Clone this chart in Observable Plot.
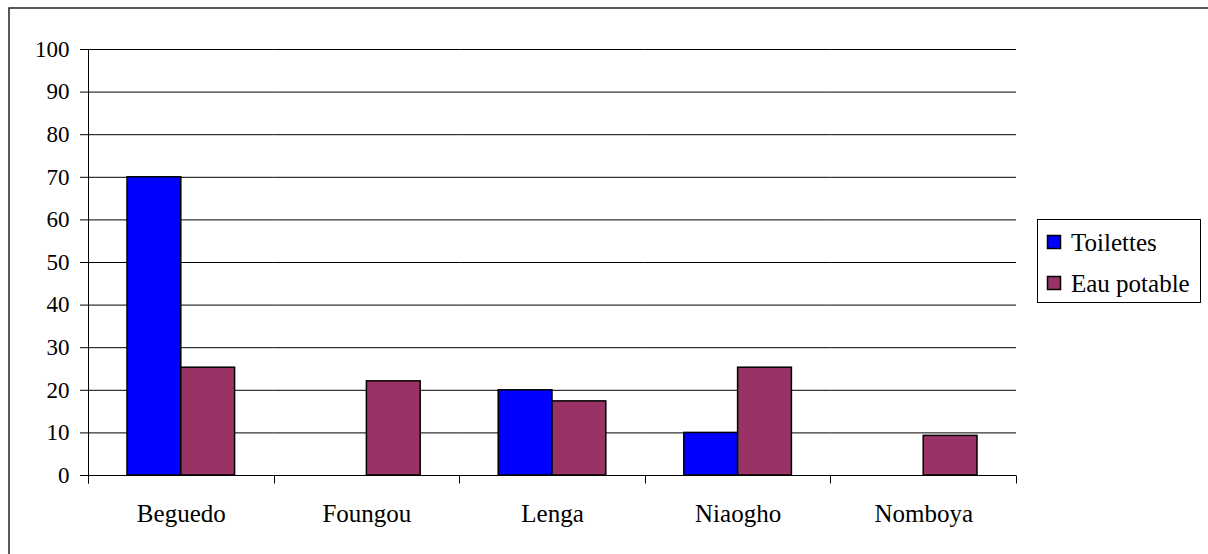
<!DOCTYPE html>
<html>
<head>
<meta charset="utf-8">
<script src="https://cdn.jsdelivr.net/npm/d3@7"></script>
<script src="https://cdn.jsdelivr.net/npm/@observablehq/plot@0.6"></script>
<style>
  html, body { margin: 0; padding: 0; background: #fff; font-family: "Liberation Serif", serif; }
  #chart { width: 1208px; height: 554px; }
</style>
</head>
<body>
<div id="chart"></div>
<script>
const sites = ["Beguedo", "Foungou", "Lenga", "Niaogho", "Nomboya"];
const series = ["Toilettes", "Eau potable"];
const toilettes = [70, 0, 20, 10, 0];
const eauPotable = [25.3, 22.1, 17.4, 25.3, 9.3];
const yTicks = [0, 10, 20, 30, 40, 50, 60, 70, 80, 90, 100];
const colors = ["#0000ff", "#993366"];

const data = [];
sites.forEach((s, i) => {
  data.push({site: s, serie: series[0], value: toilettes[i]});
  data.push({site: s, serie: series[1], value: eauPotable[i]});
});

const font = "serif";

const chart = Plot.plot({
  width: 1208,
  height: 554,
  marginLeft: 88,
  marginRight: 192,
  marginTop: 49,
  marginBottom: 79,
  style: {fontFamily: font, fontSize: "23px", color: "black", background: "white"},
  fx: {domain: sites, padding: 0, label: null, round: false},
  x: {domain: series, paddingInner: 0, paddingOuter: 0.725, axis: null, round: false},
  y: {domain: [0, 100], label: null},
  color: {domain: series, range: colors},
  marks: [
    Plot.gridY(yTicks, {stroke: "black", strokeOpacity: 1, strokeWidth: 1}),
    Plot.axisY(yTicks, {tickSize: 8, tickPadding: 11, label: null, fontSize: 23, fontFamily: font, stroke: "black"}),
    Plot.axisFx({anchor: "bottom", tickSize: 0, tickPadding: 29, label: null, fontSize: 25, fontFamily: font}),
    Plot.barY(data, {
      fx: "site", x: "serie", y: "value", fill: "serie",
      stroke: "black", strokeWidth: 1.5,
      filter: d => d.value > 0
    })
  ]
});

document.getElementById("chart").appendChild(chart);

// Decorations drawn from the library's scales
const svg = d3.select(chart);
svg.attr("font-family", font);
const fx = chart.scale("fx");
const y = chart.scale("y");
const x0 = fx.apply(sites[0]);
const xEnd = fx.apply(sites[sites.length - 1]) + fx.bandwidth;
const y0 = y.apply(0);
const y100 = y.apply(100);

const g = svg.append("g").attr("stroke", "black").attr("stroke-width", 1);
// y axis line
g.append("line").attr("x1", x0 + 0.5).attr("x2", x0 + 0.5).attr("y1", y100).attr("y2", y0 + 8.5);
// category boundary ticks
const bounds = sites.map(s => fx.apply(s)).concat([xEnd]);
bounds.forEach(b => {
  g.append("line").attr("x1", Math.round(b) + 0.5).attr("x2", Math.round(b) + 0.5)
    .attr("y1", y0 + 0.5).attr("y2", y0 + 8.5);
});

// outer border (top and left visible)
svg.append("path").attr("d", "M9,554V8H1208").attr("fill", "none")
  .attr("stroke", "#222").attr("stroke-width", 1.5);

// legend
const color = chart.scale("color");
const lg = svg.append("g").attr("font-size", 25).attr("text-anchor", "start");
lg.append("rect").attr("x", 1037.5).attr("y", 219.5).attr("width", 163).attr("height", 83)
  .attr("fill", "white").attr("stroke", "black").attr("stroke-width", 1);
series.forEach((s, i) => {
  const yy = 235.5 + i * 41;
  lg.append("rect").attr("x", 1047.5).attr("y", yy).attr("width", 13).attr("height", 13)
    .attr("fill", color.apply(s)).attr("stroke", "black").attr("stroke-width", 1.5);
  lg.append("text").attr("x", 1071).attr("y", 250.7 + i * 41).attr("fill", "black").text(s);
});

svg.selectAll("text").attr("font-family", font).style("font-family", "'Liberation Serif', serif");
</script>
</body>
</html>
